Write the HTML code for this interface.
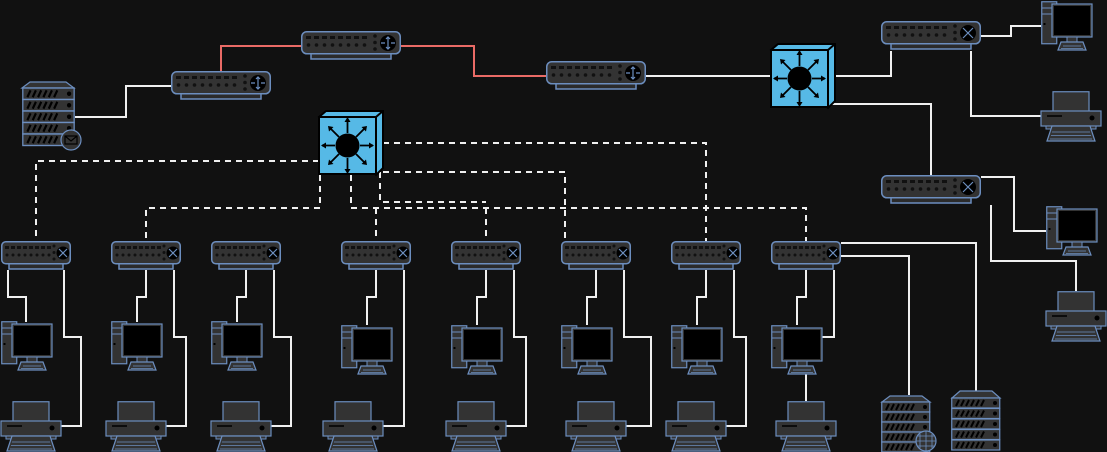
<!DOCTYPE html>
<html><head><meta charset="utf-8"><style>html,body{margin:0;padding:0;background:#111111;}svg{display:block}</style></head><body>
<svg width="1107" height="452" viewBox="0 0 1107 452" xmlns="http://www.w3.org/2000/svg">
<defs>
<g id="rbody">
<rect x="10" y="21" width="80" height="7" fill="#2b2b2b" stroke="#6c8ebf" stroke-width="1.5"/>
<rect x="0.75" y="0.75" width="98.5" height="22" rx="5" fill="#333" stroke="#6c8ebf" stroke-width="1.5"/>
<g fill="#111"><rect x="5" y="5" width="5" height="3"/><rect x="13" y="5" width="5" height="3"/><rect x="21" y="5" width="5" height="3"/><rect x="29" y="5" width="5" height="3"/><rect x="37" y="5" width="5" height="3"/><rect x="45" y="5" width="5" height="3"/><rect x="53" y="5" width="5" height="3"/><rect x="61" y="5" width="5" height="3"/>
<circle cx="7.5" cy="14" r="1.8"/><circle cx="15.5" cy="14" r="1.8"/><circle cx="23.5" cy="14" r="1.8"/><circle cx="31.5" cy="14" r="1.8"/><circle cx="39.5" cy="14" r="1.8"/><circle cx="47.5" cy="14" r="1.8"/><circle cx="55.5" cy="14" r="1.8"/><circle cx="63.5" cy="14" r="1.8"/>
<circle cx="74" cy="5" r="1.8"/><circle cx="74" cy="11.5" r="1.8"/><circle cx="74" cy="18" r="1.8"/></g>
<circle cx="87" cy="12" r="8" fill="#000"/>
</g>
<g id="router">
<use href="#rbody"/>
<path d="M87 6v12M84 12h-4M90 12h4M85 8l2-2 2 2M85 16l2 2 2-2" stroke="#6c8ebf" stroke-width="1.2" fill="none"/>
</g>
<g id="bigswitch">
<use href="#rbody"/>
<path d="M82 7l10 10M92 7l-10 10" stroke="#6c8ebf" stroke-width="1.2"/>
</g>
<g id="switch">
<rect x="8" y="21" width="54" height="7" fill="#2b2b2b" stroke="#6c8ebf" stroke-width="1.5"/>
<rect x="0.75" y="0.75" width="68.5" height="22" rx="4" fill="#333" stroke="#6c8ebf" stroke-width="1.5"/>
<g fill="#111"><rect x="4" y="5" width="4" height="3"/><rect x="10" y="5" width="4" height="3"/><rect x="16" y="5" width="4" height="3"/><rect x="22" y="5" width="4" height="3"/><rect x="28" y="5" width="4" height="3"/><rect x="34" y="5" width="4" height="3"/><rect x="40" y="5" width="4" height="3"/><rect x="46" y="5" width="4" height="3"/>
<circle cx="6" cy="14" r="1.5"/><circle cx="12" cy="14" r="1.5"/><circle cx="18" cy="14" r="1.5"/><circle cx="24" cy="14" r="1.5"/><circle cx="30" cy="14" r="1.5"/><circle cx="36" cy="14" r="1.5"/><circle cx="42" cy="14" r="1.5"/><circle cx="48" cy="14" r="1.5"/>
<circle cx="53" cy="5" r="1.5"/><circle cx="53" cy="11.5" r="1.5"/><circle cx="53" cy="18" r="1.5"/></g>
<circle cx="62" cy="12" r="6.5" fill="#000"/>
<path d="M58 8l8 8M66 8l-8 8" stroke="#6c8ebf" stroke-width="1.2"/>
</g>
<g id="cube">
<path d="M1 7l7-6h57v57l-7 7z" fill="#56b9e6" stroke="#000" stroke-width="2"/>
<rect x="1" y="7" width="57" height="57" fill="#56b9e6" stroke="#000" stroke-width="2"/>
<path d="M58 7l7-6" stroke="#000" stroke-width="2"/>
<circle cx="29.5" cy="35.5" r="12" fill="#000"/>
<g stroke="#000" stroke-width="1.8"><path d="M29.5 23v-14M29.5 48v14M17 35.5h-13M42 35.5h13M21 27l-9-9M38 27l9-9M21 44l-9 9M38 44l9 9"/></g>
<g fill="#000"><path d="M29.5 7l-3 5h6zM29.5 64l-3-5h6zM3 35.5l5-3v6zM56 35.5l-5-3v6zM10 16l5.5 1-4.5 4.5zM49 16l-1 5.5-4.5-4.5zM10 55l1-5.5 4.5 4.5zM49 55l-5.5-1 4.5-4.5z"/></g>
</g>
<g id="pc">
<rect x="0.75" y="0.75" width="15" height="42" fill="#333" stroke="#6c8ebf" stroke-width="1.2"/>
<line x1="1" y1="7" x2="15" y2="7" stroke="#6c8ebf"/><line x1="1" y1="13" x2="15" y2="13" stroke="#6c8ebf"/>
<rect x="2.5" y="22" width="2" height="2" fill="#000"/>
<rect x="11" y="3" width="40" height="33" fill="#333" stroke="#6c8ebf" stroke-width="1.2"/>
<rect x="13" y="5" width="36" height="29" fill="#000"/>
<rect x="26" y="36" width="10" height="5" fill="#333" stroke="#6c8ebf"/>
<path d="M17 49l3-8h22l3 8z" fill="#333" stroke="#6c8ebf" stroke-width="1.2"/>
<path d="M22 45h18M20 47.5h22" stroke="#6c8ebf" stroke-width="0.8"/>
</g>
<g id="printer">
<rect x="13" y="0.75" width="36" height="20" fill="#333" stroke="#6c8ebf" stroke-width="1.2"/>
<rect x="1" y="20" width="60" height="15" fill="#333" stroke="#6c8ebf" stroke-width="1.2"/>
<line x1="7" y1="25" x2="22" y2="25" stroke="#000" stroke-width="1.5"/>
<circle cx="52" cy="27" r="2.5" fill="#000"/>
<rect x="6" y="35" width="50" height="3" fill="#333" stroke="#6c8ebf"/>
<path d="M7 50l5-15h38l5 15z" fill="#333" stroke="#6c8ebf" stroke-width="1.2"/>
<path d="M12 41h38M11 44.5h40M10 48h42" stroke="#6c8ebf" stroke-width="0.8"/>
</g>
<g id="unit">
<rect x="0.75" y="0" width="48" height="10" fill="#333" stroke="#6c8ebf" stroke-width="1.2"/>
<path d="M5 8l3-6M10 8l3-6M15 8l3-6M20 8l3-6M25 8l3-6M30 8l3-6" stroke="#000" stroke-width="2"/>
<circle cx="44" cy="5" r="2" fill="#000"/>
</g>
</defs>

<g fill="none" stroke="#f0f0f0" stroke-width="2">
<path d="M75 117h51v-31h45"/>
<path d="M646 76h125"/>
<path d="M835 76h56v-25"/>
<path d="M981 36h30v-10h30"/>
<path d="M971 51v65h70"/>
<path d="M830 104h101v71"/>
<path d="M981 177h33v54h32"/>
<path d="M991 205v56h85v30"/>
<path d="M841 256h68v139"/>
<path d="M841 243h135v148"/>
</g>
<g fill="none" stroke="#ea6b66" stroke-width="2">
<path d="M221 71v-25h80"/>
<path d="M401 46h73v30h72"/>
</g>
<g fill="none" stroke="#f0f0f0" stroke-width="2" stroke-dasharray="6 5">
<path d="M319 161h-283v80"/>
<path d="M320 175v33h-174v33"/>
<path d="M351 175v33h455v33"/>
<path d="M376 208v33"/>
<path d="M486 208v33"/>
<path d="M380 172v30h106"/>
<path d="M383 143h323v98"/>
<path d="M383 172h182v69"/>
</g>

<g fill="none" stroke="#f0f0f0" stroke-width="2">
<path d="M8 270v27h18v25"/><path d="M64 270v67h17v89h-20"/>
<path d="M146 270v27h-9v25"/><path d="M174 270v67h12v89h-20"/>
<path d="M246 270v27h-9v25"/><path d="M274 270v67h17v89h-20"/>
<path d="M376 270v27h-9v28"/><path d="M404 270v156h-21"/>
<path d="M486 270v27h-9v28"/><path d="M514 270v67h12v89h-20"/>
<path d="M596 270v27h-9v28"/><path d="M624 270v67h27v89h-25"/>
<path d="M706 270v27h-9v28"/><path d="M734 270v67h12v89h-20"/>
<path d="M806 270v27h-9v28"/><path d="M834 270v67h-12"/><path d="M806 370v31"/>
</g>

<use href="#router" x="171" y="71"/>
<use href="#router" x="301" y="31"/>
<use href="#router" x="546" y="61"/>
<use href="#bigswitch" x="881" y="21"/>
<use href="#bigswitch" x="881" y="175"/>
<use href="#cube" x="318" y="110"/>
<use href="#cube" x="770" y="43"/>

<use href="#switch" x="1" y="241"/><use href="#switch" x="111" y="241"/><use href="#switch" x="211" y="241"/><use href="#switch" x="341" y="241"/>
<use href="#switch" x="451" y="241"/><use href="#switch" x="561" y="241"/><use href="#switch" x="671" y="241"/><use href="#switch" x="771" y="241"/>

<use href="#pc" x="1" y="321"/><use href="#pc" x="111" y="321"/><use href="#pc" x="211" y="321"/><use href="#pc" x="341" y="325"/>
<use href="#pc" x="451" y="325"/><use href="#pc" x="561" y="325"/><use href="#pc" x="671" y="325"/><use href="#pc" x="771" y="325"/>
<use href="#pc" x="1041" y="1"/><use href="#pc" x="1046" y="206"/>

<use href="#printer" x="0" y="401"/><use href="#printer" x="105" y="401"/><use href="#printer" x="210" y="401"/><use href="#printer" x="322" y="401"/>
<use href="#printer" x="445" y="401"/><use href="#printer" x="565" y="401"/><use href="#printer" x="665" y="401"/><use href="#printer" x="775" y="401"/>
<use href="#printer" x="1040" y="91"/><use href="#printer" x="1045" y="291"/>

<path d="M22 88l8-6h36l8 6z" fill="#333" stroke="#6c8ebf" stroke-width="1.2"/>
<g transform="translate(22,88) scale(1.07,1.15)"><use href="#unit" y="0"/><use href="#unit" y="10"/><use href="#unit" y="20"/><use href="#unit" y="30"/><use href="#unit" y="40"/></g>
<circle cx="71" cy="140" r="10" fill="#333" stroke="#6c8ebf" stroke-width="1.2"/>
<rect x="65" y="136" width="12" height="8" fill="none" stroke="#000" stroke-width="1.2"/><path d="M65 136l6 5 6-5" fill="none" stroke="#000" stroke-width="1.2"/>

<path d="M882 402l8-6h32l8 6z" fill="#333" stroke="#6c8ebf" stroke-width="1.2"/>
<g transform="translate(881,402)"><use href="#unit" y="0"/><use href="#unit" y="10"/><use href="#unit" y="20"/><use href="#unit" y="30"/><use href="#unit" y="40"/></g>
<circle cx="926" cy="441" r="10" fill="#333" stroke="#6c8ebf" stroke-width="1.2"/>
<path d="M916 441h20M926 431v20M920 434v14M932 434v14M918 436h16M918 446h16" stroke="#6c8ebf" stroke-width="0.8" fill="none"/>

<path d="M952 398l8-7h32l8 7z" fill="#333" stroke="#6c8ebf" stroke-width="1.2"/>
<g transform="translate(951,398)"><use href="#unit" y="0"/><use href="#unit" y="10.5"/><use href="#unit" y="21"/><use href="#unit" y="31.5"/><use href="#unit" y="42"/></g>
</svg>
</body></html>
